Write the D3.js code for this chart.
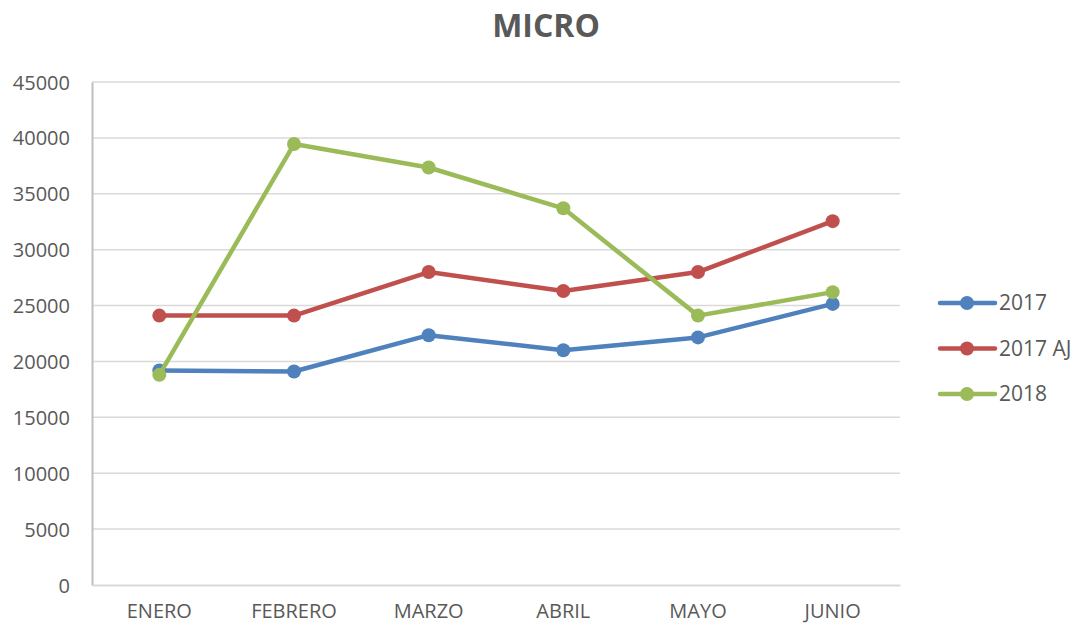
<!DOCTYPE html>
<meta charset="utf-8">
<style>
body{margin:0;background:#fff;}
text{font-family:"Open Sans",sans-serif;fill:#595959;}
.grid line{stroke:#d9d9d9;stroke-width:1.5px;}
.title{font-size:32px;font-weight:bold;text-anchor:middle;}
.tick text{font-size:20px;}
.legend text{font-size:21px;}
</style>
<body>
<script src="https://d3js.org/d3.v7.min.js"></script>
<script>

var months=["ENERO","FEBRERO","MARZO","ABRIL","MAYO","JUNIO"];
var s2017=[19200,19100,22350,21000,22150,25150];
var s2017aj=[24100,24100,28000,26300,28000,32550];
var s2018=[18800,39450,37350,33700,24100,26200];
var yTicks=[0,5000,10000,15000,20000,25000,30000,35000,40000,45000];

var series=[
	{name:"2017",values:s2017,color:"#4f81bd"},
	{name:"2017 AJ",values:s2017aj,color:"#c0504d"},
	{name:"2018",values:s2018,color:"#9bbb59"}
];

var W=1078,H=625;
var svg=d3.select("body").append("svg").attr("width",W).attr("height",H);

var x=d3.scaleBand().domain(months).range([92,900]);
var y=d3.scaleLinear().domain([0,45000]).range([585,82]);

svg.append("text").attr("class","title").attr("x",546).attr("y",37).text("MICRO");

// gridlines
svg.append("g").attr("class","grid")
	.selectAll("line").data(yTicks.filter(d=>d>0)).join("line")
	.attr("x1",92).attr("x2",900)
	.attr("y1",d=>y(d)).attr("y2",d=>y(d));

// y axis
var ya=svg.append("g").attr("transform","translate(92,0)")
	.call(d3.axisLeft(y).tickValues(yTicks).tickSize(0).tickPadding(22).tickFormat(d3.format("d")));
ya.select(".domain").attr("stroke","#bfbfbf").attr("stroke-width",2);
ya.selectAll(".tick text").attr("dy","0.35em");

// x axis
var xa=svg.append("g").attr("transform","translate(0,585)")
	.call(d3.axisBottom(x).tickSize(0).tickPadding(19));
xa.select(".domain").attr("stroke","#d9d9d9").attr("stroke-width",2);

var line=d3.line().x((d,i)=>x(months[i])+x.bandwidth()/2).y(d=>y(d));

var sg=svg.selectAll(".series").data(series).join("g").attr("class","series");
sg.append("path")
	.attr("d",d=>line(d.values))
	.attr("fill","none")
	.attr("stroke",d=>d.color)
	.attr("stroke-width",4.5)
	.attr("stroke-linejoin","round");
sg.selectAll("circle").data(d=>d.values.map(v=>({v:v,c:d.color}))).join("circle")
	.attr("cx",(d,i)=>x(months[i])+x.bandwidth()/2)
	.attr("cy",d=>y(d.v))
	.attr("r",7)
	.attr("fill",d=>d.c);

// legend
var lg=svg.append("g").attr("class","legend")
	.selectAll("g").data(series).join("g")
	.attr("transform",(d,i)=>"translate(940,"+(303+i*45.5)+")");
lg.append("line").attr("x1",0).attr("x2",55)
	.attr("stroke",d=>d.color).attr("stroke-width",4.5).attr("stroke-linecap","round");
lg.append("circle").attr("cx",27).attr("r",7).attr("fill",d=>d.color);
lg.append("text").attr("x",59).attr("dy","0.35em").text(d=>d.name);

</script>
</body>
